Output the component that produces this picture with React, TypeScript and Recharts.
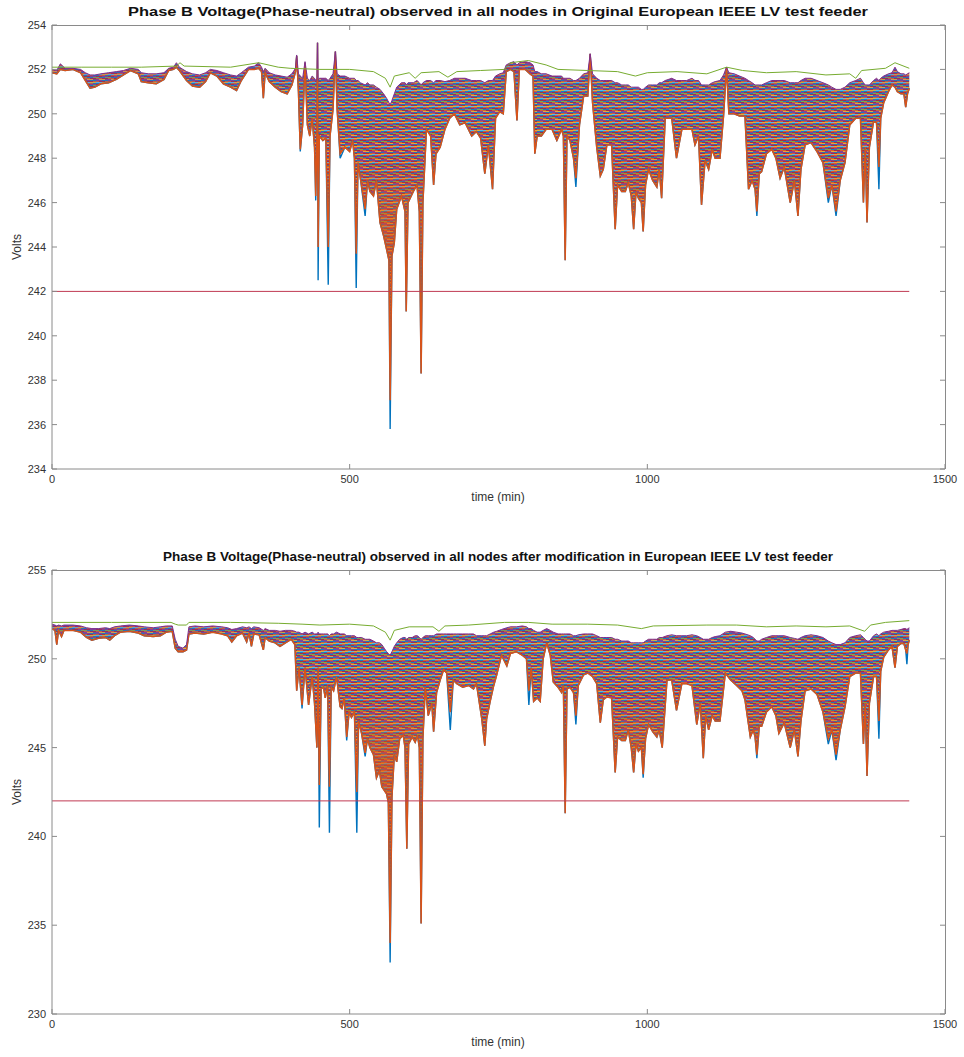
import { ComposedChart, Line, Area, XAxis, YAxis, ReferenceLine } from "recharts";

// matlab default line colours
const BLUE = "#0072BD";
const ORANGE = "#D95319";
const YELLOW = "#EDB120";
const PURPLE = "#7E2F8E";
const GREEN = "#77AC30";
const CYAN = "#4DBEEE";
const DARKRED = "#A2142F";

const FONT = '"Liberation Sans", Arial, Helvetica, sans-serif';
const AXIS = "#8a8a8a";
const TEXT = "#333333";

const xTicks = [0, 500, 1000, 1500];
const yTicks1 = [234, 236, 238, 240, 242, 244, 246, 248, 250, 252, 254];
const yTicks2 = [230, 235, 240, 245, 250, 255];
const limit = 242;

// ---- original feeder ----
const time1 = [
  0, 8, 14, 22, 35, 48, 56, 64, 72, 82,
  95, 108, 120, 132, 145, 150, 162, 175, 188, 196,
  204, 209, 214, 226, 236, 248, 258, 266, 277, 288,
  300, 310, 318, 330, 340, 347, 352, 355, 358, 365,
  375, 385, 395, 403, 409, 411, 414, 417, 421, 425,
  429, 433, 437, 441, 443, 445, 446, 447, 449, 455,
  460, 464, 467, 472, 476, 479, 484, 492, 500, 505,
  508, 511, 514, 518, 526, 530, 534, 540, 545, 551,
  557, 562, 566, 568, 571, 575, 579, 587, 593, 595,
  598, 607, 613, 617, 620, 623, 629, 636, 641, 645,
  652, 660, 668, 676, 685, 694, 705, 713, 720, 727,
  733, 740, 745, 752, 758, 763, 770, 776, 781, 785,
  795, 803, 808, 811, 815, 822, 830, 840, 848, 856,
  859, 862, 865, 870, 876, 880, 886, 893, 900, 904,
  908, 915, 921, 926, 932, 940, 946, 950, 957, 963,
  968, 973, 977, 981, 985, 990, 993, 997, 1002, 1009,
  1016, 1020, 1024, 1030, 1041, 1049, 1058, 1066, 1075, 1080,
  1086, 1091, 1097, 1103, 1109, 1114, 1122, 1128, 1133, 1137,
  1146, 1155, 1164, 1170, 1176, 1181, 1184, 1188, 1192, 1200,
  1209, 1216, 1223, 1230, 1240, 1247, 1253, 1258, 1265, 1275,
  1285, 1295, 1304, 1310, 1317, 1324, 1332, 1340, 1350, 1358,
  1363, 1366, 1369, 1373, 1380, 1385, 1389, 1392, 1397, 1405,
  1411, 1416, 1420, 1426, 1431, 1434, 1437, 1440,
];
const low1 = [
  251.85, 251.8, 252.0, 251.95, 252.0, 251.85, 251.5, 251.15, 251.2, 251.35,
  251.4, 251.55, 251.75, 251.95, 251.8, 251.45, 251.4, 251.35, 251.55, 251.95,
  252.0, 252.1, 251.95, 251.5, 251.25, 251.2, 251.45, 251.85, 251.7, 251.35,
  251.2, 251.05, 251.5, 252.0, 252.0, 252.05, 251.9, 250.7, 251.85, 251.45,
  251.2, 251.0, 250.9, 251.3, 251.9, 252.6, 251.0, 248.4, 249.5, 252.3,
  249.5, 249.0, 249.8, 248.5, 246.3, 249.0, 253.2, 244.0, 249.0, 248.8,
  248.9, 244.0, 249.0, 250.2, 252.8, 250.2, 248.2, 248.5, 248.3, 248.8,
  248.0, 243.7, 247.8, 247.1, 245.7, 247.0, 246.5, 246.3, 247.0, 245.1,
  244.5, 243.9, 243.4, 237.1, 243.6, 244.2, 245.7, 246.3, 245.6, 241.1,
  246.0, 246.5, 246.8, 245.6, 238.3, 246.0, 249.3, 249.0, 246.8, 248.2,
  248.5, 249.3, 249.8, 250.0, 249.5, 249.6, 249.0, 249.2, 248.9, 247.3,
  248.6, 246.6, 249.8, 250.1, 250.0, 251.9, 252.0, 251.9, 249.7, 252.0,
  252.0, 251.8, 251.7, 248.2, 249.0, 249.0, 249.3, 249.3, 248.8, 249.3,
  249.0, 243.4, 249.0, 248.8, 248.0, 247.1, 249.5, 250.8, 250.8, 252.7,
  250.5, 248.5, 247.2, 247.5, 248.6, 248.6, 244.8, 246.8, 246.5, 246.5,
  246.9, 246.3, 244.8, 246.5, 246.2, 246.0, 244.7, 246.8, 247.5, 247.0,
  246.7, 247.5, 246.2, 249.8, 249.8, 248.0, 249.3, 249.3, 249.3, 248.6,
  249.0, 245.9, 247.9, 247.5, 248.4, 248.0, 248.0, 249.9, 252.1, 250.0,
  250.0, 249.9, 249.9, 246.6, 247.0, 246.6, 245.6, 247.3, 247.4, 248.2,
  248.4, 248.0, 247.1, 247.6, 246.0, 247.0, 245.4, 247.5, 248.6, 248.7,
  248.3, 247.8, 246.2, 246.8, 245.6, 247.0, 247.8, 249.5, 249.8, 249.8,
  246.0, 248.5, 245.1, 248.5, 249.65, 249.6, 247.6, 249.8, 250.5, 251.0,
  251.3, 251.2, 251.0, 250.9, 250.9, 250.3, 250.9, 251.15,
];
const upper1 = [
  252.0, 251.95, 252.25, 252.05, 252.05, 252.0, 251.85, 251.75, 251.75, 251.8,
  251.85, 251.9, 251.95, 252.05, 252.0, 251.85, 251.8, 251.8, 251.85, 252.05,
  252.1, 252.3, 252.1, 251.9, 251.8, 251.75, 251.85, 252.0, 251.95, 251.85,
  251.75, 251.7, 251.85, 252.1, 252.15, 252.3, 252.1, 251.9, 252.05, 251.85,
  251.75, 251.7, 251.65, 251.8, 252.05, 252.65, 251.8, 251.7, 251.6, 252.35,
  251.6, 251.5, 251.7, 251.6, 251.5, 251.6, 253.2, 251.5, 251.6, 251.6,
  251.6, 251.5, 251.6, 251.8, 252.8, 251.8, 251.7, 251.7, 251.6, 251.6,
  251.6, 251.5, 251.5, 251.4, 251.3, 251.4, 251.3, 251.3, 251.2, 251.1,
  250.9, 250.7, 250.5, 250.4, 250.6, 250.9, 251.2, 251.4, 251.4, 251.3,
  251.4, 251.4, 251.5, 251.4, 251.3, 251.4, 251.5, 251.5, 251.4, 251.5,
  251.5, 251.45, 251.5, 251.6, 251.6, 251.6, 251.5, 251.5, 251.5, 251.4,
  251.5, 251.5, 251.7, 251.8, 251.85, 252.2, 252.3, 252.35, 252.2, 252.3,
  252.35, 252.3, 252.2, 251.9, 251.9, 251.8, 251.8, 251.7, 251.7, 251.7,
  251.6, 251.6, 251.6, 251.6, 251.5, 251.5, 251.6, 251.8, 251.85, 252.7,
  251.8, 251.6, 251.5, 251.5, 251.5, 251.5, 251.4, 251.4, 251.3, 251.3,
  251.3, 251.2, 251.2, 251.2, 251.2, 251.1, 251.1, 251.2, 251.3, 251.3,
  251.3, 251.4, 251.4, 251.5, 251.6, 251.5, 251.5, 251.5, 251.6, 251.5,
  251.5, 251.3, 251.3, 251.3, 251.4, 251.45, 251.5, 251.75, 252.1, 251.85,
  251.8, 251.7, 251.6, 251.5, 251.4, 251.3, 251.3, 251.3, 251.3, 251.4,
  251.5, 251.5, 251.5, 251.5, 251.4, 251.4, 251.4, 251.5, 251.6, 251.6,
  251.5, 251.4, 251.3, 251.2, 251.1, 251.1, 251.2, 251.4, 251.5, 251.6,
  251.4, 251.3, 251.3, 251.3, 251.5, 251.6, 251.5, 251.6, 251.7, 251.8,
  251.85, 252.1, 251.9, 251.8, 251.8, 251.75, 251.8, 251.85,
];
const dipTime1 = [417, 443, 447, 464, 484, 511, 526, 568, 880, 1184, 1304, 1317, 1389];
const dipVolt1 = [248.3, 246.1, 242.5, 242.3, 248.0, 242.15, 245.4, 235.8, 246.7, 245.4, 246.0, 245.4, 246.6];
const topTime1 = [
  0, 50, 100, 150, 209, 215, 222, 300, 347, 380,
  400, 450, 500, 540, 560, 568, 575, 600, 610, 620,
  650, 665, 680, 720, 760, 770, 800, 830, 850, 900,
  950, 980, 1000, 1050, 1100, 1133, 1160, 1200, 1250, 1300,
  1340, 1350, 1360, 1400, 1416, 1440,
];
const topVolt1 = [
  252.1, 252.1, 252.1, 252.1, 252.15, 252.3, 252.15, 252.1, 252.3, 252.1,
  252.05, 252.0, 252.0, 251.9, 251.6, 251.2, 251.7, 251.85, 251.6, 251.85,
  251.9, 251.65, 251.9, 251.95, 252.0, 252.3, 252.4, 252.2, 252.0, 251.95,
  251.9, 251.7, 251.85, 251.9, 251.8, 252.1, 251.95, 251.85, 251.9, 251.75,
  251.8, 251.6, 251.95, 252.05, 252.3, 252.05,
];

// ---- modified feeder ----
const time2 = [
  0, 5, 8, 11, 16, 20, 35, 48, 58, 67,
  78, 90, 97, 105, 115, 130, 145, 155, 170, 182,
  192, 202, 207, 212, 220, 226, 230, 240, 255, 270,
  285, 295, 302, 310, 320, 327, 331, 335, 339, 348,
  355, 358, 365, 375, 383, 392, 402, 408, 411, 415,
  420, 425, 431, 437, 441, 445, 447, 449, 452, 456,
  459, 463, 466, 469, 473, 478, 484, 487, 491, 495,
  499, 503, 508, 512, 515, 520, 526, 530, 534, 540,
  545, 550, 554, 558, 562, 565, 568, 571, 575, 579,
  584, 590, 593, 596, 599, 605, 610, 614, 617, 620,
  623, 627, 632, 638, 641, 646, 652, 658, 663, 669,
  674, 680, 690, 700, 708, 713, 722, 727, 730, 736,
  742, 747, 755, 764, 770, 780, 790, 797, 801, 805,
  809, 815, 820, 825, 831, 837, 842, 850, 856, 859,
  862, 865, 870, 876, 880, 884, 893, 900, 908, 915,
  921, 926, 932, 940, 946, 950, 957, 963, 968, 973,
  977, 981, 985, 990, 993, 997, 1002, 1009, 1016, 1020,
  1025, 1033, 1041, 1049, 1058, 1066, 1075, 1083, 1089, 1094,
  1098, 1103, 1109, 1114, 1122, 1131, 1140, 1150, 1159, 1164,
  1173, 1178, 1181, 1184, 1188, 1192, 1200, 1209, 1216, 1221,
  1230, 1240, 1247, 1253, 1258, 1265, 1275, 1285, 1295, 1304,
  1310, 1317, 1324, 1332, 1340, 1350, 1358, 1363, 1366, 1369,
  1373, 1380, 1385, 1389, 1392, 1397, 1405, 1411, 1416, 1420,
  1426, 1431, 1434, 1436, 1438, 1440,
];
const low2 = [
  251.7, 251.6, 250.8, 251.6, 251.25, 251.6, 251.6, 251.5, 251.2, 251.05,
  251.15, 251.2, 251.05, 251.3, 251.5, 251.55, 251.45, 251.3, 251.25, 251.3,
  251.5, 251.55, 250.6, 250.4, 250.4, 250.5, 251.4, 251.45, 251.4, 251.5,
  251.4, 251.3, 250.95, 251.3, 251.45, 250.95, 251.45, 250.7, 251.4, 251.35,
  250.5, 251.2, 251.0, 250.9, 250.7, 250.9, 251.1, 250.8, 248.2, 249.5,
  247.4, 249.5, 247.4, 249.0, 247.5, 245.0, 249.5, 242.9, 248.3, 248.4,
  247.8, 248.5, 242.8, 248.4, 248.2, 249.0, 247.3, 247.2, 247.8, 245.6,
  247.0, 246.7, 247.0, 242.5, 246.5, 245.8, 244.7, 245.5, 245.0, 244.6,
  243.3, 243.7, 242.8, 242.6, 242.4, 241.9, 234.0, 242.2, 244.6, 244.2,
  245.5, 245.7, 245.0, 239.3, 245.2, 245.6, 245.3, 245.7, 245.0, 235.1,
  245.5, 248.4, 246.8, 247.5, 245.9, 248.1, 248.8, 249.4, 249.2, 247.0,
  248.8, 248.6, 248.4, 248.5, 248.3, 248.6, 246.6, 245.1, 246.6, 247.6,
  248.5, 249.1, 250.2, 249.6, 250.3, 250.4, 250.2, 250.0, 248.2, 249.5,
  247.6, 247.8, 247.6, 250.0, 250.9, 250.2, 248.7, 248.4, 248.1, 248.5,
  241.3, 248.3, 248.4, 248.1, 246.8, 248.5, 249.1, 249.2, 249.0, 248.6,
  246.4, 247.7, 247.85, 247.8, 243.6, 245.6, 245.4, 245.4, 246.0, 245.0,
  243.6, 245.2, 244.8, 245.0, 243.5, 245.5, 246.3, 245.9, 245.6, 246.0,
  245.0, 248.8, 248.8, 247.1, 248.6, 248.6, 248.5, 246.3, 247.5, 244.4,
  246.8, 246.0, 246.8, 246.5, 246.5, 249.2, 248.8, 248.5, 248.2, 247.7,
  245.6, 246.0, 245.6, 244.6, 246.2, 246.2, 247.0, 247.3, 246.8, 245.8,
  246.4, 245.0, 246.0, 244.5, 246.5, 248.2, 248.3, 248.0, 247.0, 245.5,
  246.0, 244.6, 246.0, 247.3, 249.0, 249.2, 249.2, 245.2, 247.5, 243.4,
  247.5, 249.0, 249.0, 246.5, 249.3, 250.1, 250.5, 250.7, 249.5, 250.7,
  250.86, 250.86, 250.5, 250.3, 250.8, 251.05,
];
const upper2 = [
  251.95, 251.9, 251.85, 251.9, 251.85, 251.9, 251.9, 251.85, 251.75, 251.7,
  251.7, 251.75, 251.7, 251.8, 251.85, 251.9, 251.85, 251.8, 251.75, 251.8,
  251.85, 251.85, 251.1, 250.7, 250.6, 250.8, 251.8, 251.85, 251.8, 251.85,
  251.8, 251.75, 251.65, 251.7, 251.8, 251.75, 251.8, 251.7, 251.8, 251.75,
  251.6, 251.7, 251.6, 251.6, 251.55, 251.6, 251.6, 251.55, 251.5, 251.5,
  251.4, 251.5, 251.4, 251.5, 251.4, 251.4, 251.5, 251.4, 251.4, 251.4,
  251.4, 251.4, 251.3, 251.4, 251.4, 251.5, 251.4, 251.4, 251.4, 251.3,
  251.3, 251.3, 251.3, 251.2, 251.2, 251.2, 251.1, 251.1, 251.1, 251.0,
  250.9, 250.9, 250.8, 250.6, 250.4, 250.3, 250.2, 250.4, 250.7, 250.9,
  251.1, 251.2, 251.2, 251.1, 251.2, 251.2, 251.3, 251.3, 251.2, 251.1,
  251.2, 251.3, 251.3, 251.3, 251.3, 251.4, 251.4, 251.4, 251.4, 251.4,
  251.4, 251.4, 251.4, 251.4, 251.4, 251.3, 251.3, 251.3, 251.3, 251.4,
  251.5, 251.55, 251.65, 251.75, 251.8, 251.8, 251.85, 251.8, 251.7, 251.7,
  251.6, 251.5, 251.5, 251.6, 251.7, 251.6, 251.5, 251.4, 251.4, 251.4,
  251.4, 251.4, 251.4, 251.3, 251.3, 251.35, 251.4, 251.4, 251.4, 251.3,
  251.2, 251.2, 251.2, 251.2, 251.1, 251.1, 251.0, 251.0, 251.0, 250.9,
  250.9, 250.9, 250.9, 250.9, 250.9, 251.0, 251.1, 251.1, 251.1, 251.2,
  251.2, 251.3, 251.35, 251.3, 251.3, 251.3, 251.35, 251.3, 251.2, 251.1,
  251.1, 251.1, 251.2, 251.25, 251.3, 251.5, 251.55, 251.5, 251.45, 251.4,
  251.3, 251.2, 251.1, 251.0, 251.0, 251.1, 251.2, 251.3, 251.3, 251.3,
  251.3, 251.2, 251.15, 251.1, 251.2, 251.3, 251.35, 251.3, 251.2, 251.0,
  250.9, 250.8, 250.8, 250.9, 251.2, 251.3, 251.35, 251.2, 251.1, 251.0,
  251.0, 251.3, 251.4, 251.3, 251.4, 251.5, 251.55, 251.6, 251.6, 251.6,
  251.65, 251.7, 251.7, 251.65, 251.7, 251.75,
];
const dipTime2 = [420, 449, 466, 495, 512, 526, 568, 669, 801, 880, 993, 1184, 1304, 1317, 1389, 1436];
const dipVolt2 = [247.2, 240.5, 240.2, 245.4, 240.2, 244.5, 232.9, 246.0, 247.4, 246.3, 243.3, 244.4, 245.2, 244.3, 245.5, 249.7];
const topTime2 = [
  0, 100, 200, 207, 212, 226, 230, 300, 380, 420,
  450, 500, 540, 560, 568, 575, 600, 640, 650, 660,
  700, 760, 800, 840, 900, 950, 990, 1010, 1100, 1150,
  1200, 1250, 1300, 1340, 1365, 1375, 1400, 1440,
];
const topVolt2 = [
  252.05, 252.05, 252.05, 251.95, 251.9, 251.9, 252.05, 252.05, 252.0, 251.95,
  251.9, 251.95, 251.85, 251.5, 251.05, 251.6, 251.8, 251.8, 251.55, 251.85,
  251.9, 252.05, 252.05, 251.95, 251.95, 251.9, 251.7, 251.85, 251.9, 251.9,
  251.8, 251.85, 251.8, 251.85, 251.55, 251.9, 252.05, 252.15,
];

function buildRows(times: number[], low: number[], upper: number[], dipT: number[], dipV: number[]) {
  return times.map((t, i) => {
    const k = dipT.indexOf(t);
    return {
      t,
      band: [low[i], upper[i]],
      low: low[i],
      upper: upper[i],
      blue: k >= 0 ? dipV[k] : low[i],
    };
  });
}

const rows1 = buildRows(time1, low1, upper1, dipTime1, dipVolt1);
const rows2 = buildRows(time2, low2, upper2, dipTime2, dipVolt2);
const topRows1 = topTime1.map((t, i) => ({ t, v: topVolt1[i] }));
const topRows2 = topTime2.map((t, i) => ({ t, v: topVolt2[i] }));

// short staggered dashes: reads as a tangle of thin coloured lines
const weave: [number, number, string][][] = [
  [[0, 6, PURPLE], [6, 6, BLUE]],
  [[0, 3, ORANGE], [3, 6, DARKRED], [9, 3, ORANGE]],
  [[0, 6, CYAN], [6, 6, YELLOW]],
  [[0, 3, BLUE], [3, 6, ORANGE], [9, 3, BLUE]],
  [[0, 6, DARKRED], [6, 6, PURPLE]],
  [[0, 3, GREEN], [3, 6, BLUE], [9, 3, GREEN]],
  [[0, 6, ORANGE], [6, 6, DARKRED]],
  [[0, 3, PURPLE], [3, 6, YELLOW], [9, 3, PURPLE]],
];

interface PanelProps {
  id: string;
  title: string;
  titleWidth: number;
  rows: ReturnType<typeof buildRows>;
  topRows: { t: number; v: number }[];
  domain: [number, number];
  ticks: number[];
  gradTop: number;
  gradBottom: number;
}

const PLOT = { left: 52, right: 945, top: 25, bottom: 469 };

function Panel({ id, title, titleWidth, rows, topRows, domain, ticks, gradTop, gradBottom }: PanelProps) {
  const tickStyle = { fontSize: 11, fill: TEXT, fontFamily: FONT };
  const xPx = (t: number) => PLOT.left + (t / 1500) * (PLOT.right - PLOT.left);
  const yPx = (v: number) =>
    PLOT.top + ((domain[1] - v) / (domain[1] - domain[0])) * (PLOT.bottom - PLOT.top);
  return (
    <div style={{ position: "relative", width: 964, height: 520 }}>
      <ComposedChart
        width={964}
        height={500}
        data={rows}
        margin={{ top: 25, right: 19, left: 0, bottom: 1 }}
      >
        <defs>
          <pattern id={`weave-${id}`} patternUnits="userSpaceOnUse" width={12} height={weave.length}>
            {weave.map((row, r) =>
              row.map(([x, w, c], j) => (
                <rect key={`${r}-${j}`} x={x} y={r} width={w} height={1} fill={c} />
              ))
            )}
          </pattern>
          <linearGradient id={`depth-${id}`} gradientUnits="userSpaceOnUse" x1={0} y1={gradTop} x2={0} y2={gradBottom}>
            <stop offset="0%" stopColor={PURPLE} stopOpacity={0.3} />
            <stop offset="15%" stopColor={BLUE} stopOpacity={0.1} />
            <stop offset="50%" stopColor={DARKRED} stopOpacity={0.1} />
            <stop offset="80%" stopColor={ORANGE} stopOpacity={0.35} />
            <stop offset="100%" stopColor={ORANGE} stopOpacity={0.6} />
          </linearGradient>
        </defs>
        <XAxis
          dataKey="t"
          type="number"
          domain={[0, 1500]}
          ticks={xTicks}
          allowDataOverflow
          height={30}
          stroke={AXIS}
          tickSize={-5}
          tickMargin={11}
          tick={tickStyle}
        />
        <YAxis
          type="number"
          domain={domain}
          ticks={ticks}
          allowDataOverflow
          width={52}
          stroke={AXIS}
          tickSize={-5}
          tickMargin={11}
          tick={tickStyle}
        />
        <Area
          dataKey="band"
          stroke="none"
          fill={`url(#weave-${id})`}
          fillOpacity={0.9}
          isAnimationActive={false}
        />
        <Area
          dataKey="band"
          stroke="none"
          fill={`url(#depth-${id})`}
          fillOpacity={1}
          isAnimationActive={false}
        />
        <Line dataKey="blue" stroke={BLUE} strokeWidth={1.4} dot={false} isAnimationActive={false} />
        <Line dataKey="low" stroke={ORANGE} strokeWidth={1.5} dot={false} isAnimationActive={false} />
        <Line dataKey="upper" stroke={PURPLE} strokeWidth={1} dot={false} isAnimationActive={false} />
        <Line
          data={topRows}
          dataKey="v"
          stroke={GREEN}
          strokeWidth={1}
          dot={false}
          isAnimationActive={false}
        />
        <ReferenceLine
          segment={[
            { x: 0, y: limit },
            { x: 1440, y: limit },
          ]}
          stroke="#C03A52"
          strokeWidth={1}
        />
      </ComposedChart>
      <svg
        width={964}
        height={520}
        style={{ position: "absolute", left: 0, top: 0, pointerEvents: "none" }}
      >
        {/* top and right edges of the matlab box, with inward ticks */}
        <line x1={PLOT.left} y1={PLOT.top + 0.5} x2={PLOT.right} y2={PLOT.top + 0.5} stroke={AXIS} />
        <line x1={PLOT.right + 0.5} y1={PLOT.top} x2={PLOT.right + 0.5} y2={PLOT.bottom} stroke={AXIS} />
        {xTicks.map((t) => (
          <line key={`tx${t}`} x1={xPx(t)} y1={PLOT.top} x2={xPx(t)} y2={PLOT.top + 5} stroke={AXIS} />
        ))}
        {ticks.map((v) => (
          <line key={`ty${v}`} x1={PLOT.right - 5} y1={yPx(v)} x2={PLOT.right} y2={yPx(v)} stroke={AXIS} />
        ))}
        <text
          x={498}
          y={16}
          textAnchor="middle"
          fontFamily={FONT}
          fontWeight="bold"
          fontSize={12}
          fill="#111"
          textLength={titleWidth}
          lengthAdjust="spacingAndGlyphs"
        >
          {title}
        </text>
        <text x={498} y={501} textAnchor="middle" fontFamily={FONT} fontSize={12} fill={TEXT}>
          time (min)
        </text>
        <text
          transform="translate(21,247) rotate(-90)"
          textAnchor="middle"
          fontFamily={FONT}
          fontSize={12}
          fill={TEXT}
        >
          Volts
        </text>
      </svg>
    </div>
  );
}

export default function App() {
  return (
    <div style={{ position: "absolute", left: 0, top: 0, width: 964, height: 1057, background: "#fff" }}>
      <div style={{ position: "absolute", left: 0, top: 0 }}>
        <Panel
          id="orig"
          title="Phase B Voltage(Phase-neutral) observed in all nodes in Original European IEEE LV test feeder"
          titleWidth={740}
          rows={rows1}
          topRows={topRows1}
          domain={[234, 254]}
          ticks={yTicks1}
          gradTop={72}
          gradBottom={230}
        />
      </div>
      <div style={{ position: "absolute", left: 0, top: 545 }}>
        <Panel
          id="mod"
          title="Phase B Voltage(Phase-neutral) observed in all nodes after modification in European IEEE LV test feeder"
          titleWidth={670}
          rows={rows2}
          topRows={topRows2}
          domain={[230, 255]}
          ticks={yTicks2}
          gradTop={80}
          gradBottom={215}
        />
      </div>
    </div>
  );
}
